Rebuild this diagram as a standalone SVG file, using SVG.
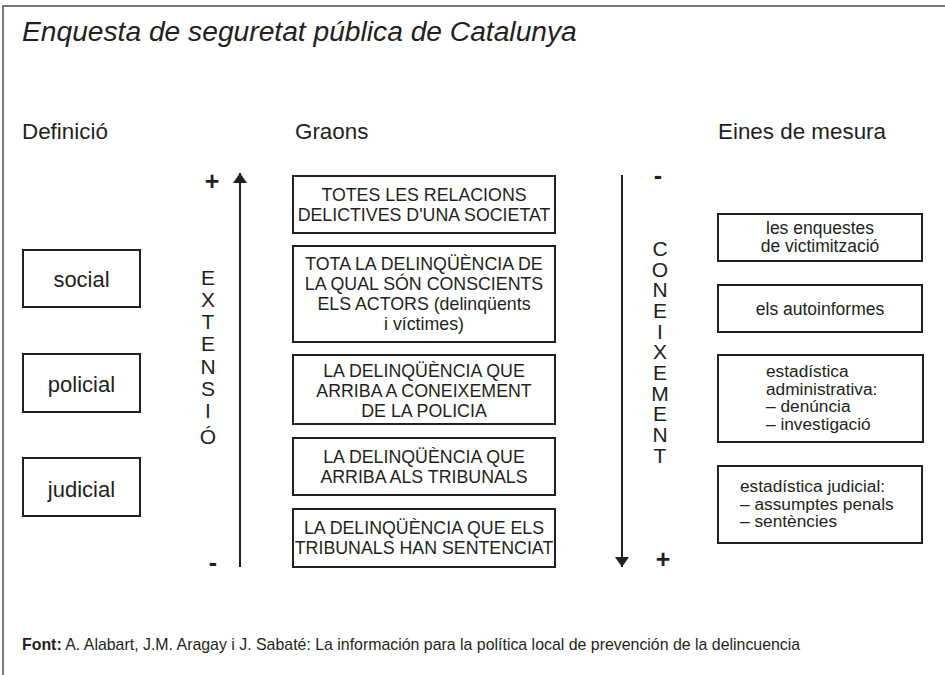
<svg xmlns="http://www.w3.org/2000/svg" width="945" height="675" viewBox="0 0 945 675">
<defs>
<style>
text{font-family:"Liberation Sans",Arial,Helvetica,sans-serif;fill:#231f20}
.box{fill:#fff;stroke:#231f20;stroke-width:2}
.title{font-size:28.2px;font-style:italic}
.head{font-size:22.4px}
.lbl{font-size:22px;text-anchor:middle}
.mid{font-size:17.8px;text-anchor:middle}
.rt{font-size:17.3px}
.rtc{font-size:17.5px;text-anchor:middle}
.vert{font-size:21px;text-anchor:middle}
.sign{font-size:25px;font-weight:bold;text-anchor:middle}
.foot{font-size:15.9px}
.ax{stroke:#231f20;stroke-width:2;fill:none}
</style>
<marker id="ah" viewBox="0 0 10 14" refX="10" refY="7" markerWidth="10" markerHeight="14" markerUnits="userSpaceOnUse" orient="auto">
<path d="M0,0 L10,7 L0,14 Z" fill="#231f20"/>
</marker>
</defs>
<rect x="0" y="0" width="945" height="675" fill="#fff"/>
<path d="M3,675 V6 H945" fill="none" stroke="#777" stroke-width="2"/>
<text class="title" x="22" y="41">Enquesta de seguretat pública de Catalunya</text>
<text class="head" x="22" y="139">Definició</text>
<text class="head" x="295" y="139">Graons</text>
<text class="head" x="718" y="139">Eines de mesura</text>

<g id="def-social"><rect class="box" x="23" y="250" width="117" height="57"/><text class="lbl" x="81.5" y="287">social</text></g>
<g id="def-policial"><rect class="box" x="23" y="354" width="117" height="58"/><text class="lbl" x="81.5" y="392">policial</text></g>
<g id="def-judicial"><rect class="box" x="23" y="458" width="117" height="58"/><text class="lbl" x="81.5" y="497">judicial</text></g>

<g id="graó-1"><rect class="box" x="293" y="176" width="262" height="57"/>
<text class="mid"><tspan x="424" y="201">TOTES LES RELACIONS</tspan><tspan x="424" y="221">DELICTIVES D'UNA SOCIETAT</tspan></text></g>
<g id="graó-2"><rect class="box" x="293" y="246" width="262" height="96"/>
<text class="mid"><tspan x="424" y="270">TOTA LA DELINQÜÈNCIA DE</tspan><tspan x="424" y="290">LA QUAL SÓN CONSCIENTS</tspan><tspan x="424" y="310">ELS ACTORS (delinqüents</tspan><tspan x="424" y="330">i víctimes)</tspan></text></g>
<g id="graó-3"><rect class="box" x="293" y="355" width="262" height="69"/>
<text class="mid"><tspan x="424" y="377">LA DELINQÜÈNCIA QUE</tspan><tspan x="424" y="397">ARRIBA A CONEIXEMENT</tspan><tspan x="424" y="417">DE LA POLICIA</tspan></text></g>
<g id="graó-4"><rect class="box" x="293" y="438" width="262" height="57"/>
<text class="mid"><tspan x="424" y="463">LA DELINQÜÈNCIA QUE</tspan><tspan x="424" y="483">ARRIBA ALS TRIBUNALS</tspan></text></g>
<g id="graó-5"><rect class="box" x="293" y="509" width="262" height="58"/>
<text class="mid"><tspan x="424" y="534">LA DELINQÜÈNCIA QUE ELS</tspan><tspan x="424" y="554">TRIBUNALS HAN SENTENCIAT</tspan></text></g>

<g id="eina-1"><rect class="box" x="718" y="214" width="204" height="47"/>
<text class="rtc"><tspan x="820" y="234">les enquestes</tspan><tspan x="820" y="252">de victimització</tspan></text></g>
<g id="eina-2"><rect class="box" x="718" y="285" width="204" height="47"/>
<text class="rtc" x="820" y="315">els autoinformes</text></g>
<g id="eina-3"><rect class="box" x="718" y="355" width="205" height="87"/>
<text class="rt"><tspan x="766" y="377">estadística</tspan><tspan x="766" y="394.5">administrativa:</tspan><tspan x="766" y="412">– denúncia</tspan><tspan x="766" y="429.5">– investigació</tspan></text></g>
<g id="eina-4"><rect class="box" x="718" y="466" width="204" height="77"/>
<text class="rt"><tspan x="740" y="492">estadística judicial:</tspan><tspan x="740" y="509.5">– assumptes penals</tspan><tspan x="740" y="527">– sentències</tspan></text></g>

<g id="connectors">
<line class="ax" x1="240" y1="567" x2="240" y2="173" marker-end="url(#ah)"/>
<line class="ax" x1="622" y1="175" x2="622" y2="567" marker-end="url(#ah)"/>
</g>

<g id="eix-extensio">
<text class="sign" x="212" y="190">+</text>
<text class="sign" x="213" y="571">-</text>
<text class="vert"><tspan x="208" y="285">E</tspan><tspan x="208" y="307">X</tspan><tspan x="208" y="329">T</tspan><tspan x="208" y="351">E</tspan><tspan x="208" y="374">N</tspan><tspan x="208" y="396">S</tspan><tspan x="208" y="418">I</tspan><tspan x="208" y="444">Ó</tspan></text>
</g>
<g id="eix-coneixement">
<text class="sign" x="658" y="184">-</text>
<text class="sign" x="663" y="568">+</text>
<text class="vert"><tspan x="660" y="256">C</tspan><tspan x="660" y="276.5">O</tspan><tspan x="660" y="297">N</tspan><tspan x="660" y="318">E</tspan><tspan x="660" y="339">I</tspan><tspan x="660" y="359">X</tspan><tspan x="660" y="380">E</tspan><tspan x="660" y="401">M</tspan><tspan x="660" y="421">E</tspan><tspan x="660" y="442">N</tspan><tspan x="660" y="463">T</tspan></text>
</g>

<text class="foot" x="22" y="650"><tspan font-weight="bold">Font:</tspan> A. Alabart, J.M. Aragay i J. Sabaté: La información para la política local de prevención de la delincuencia</text>
</svg>
